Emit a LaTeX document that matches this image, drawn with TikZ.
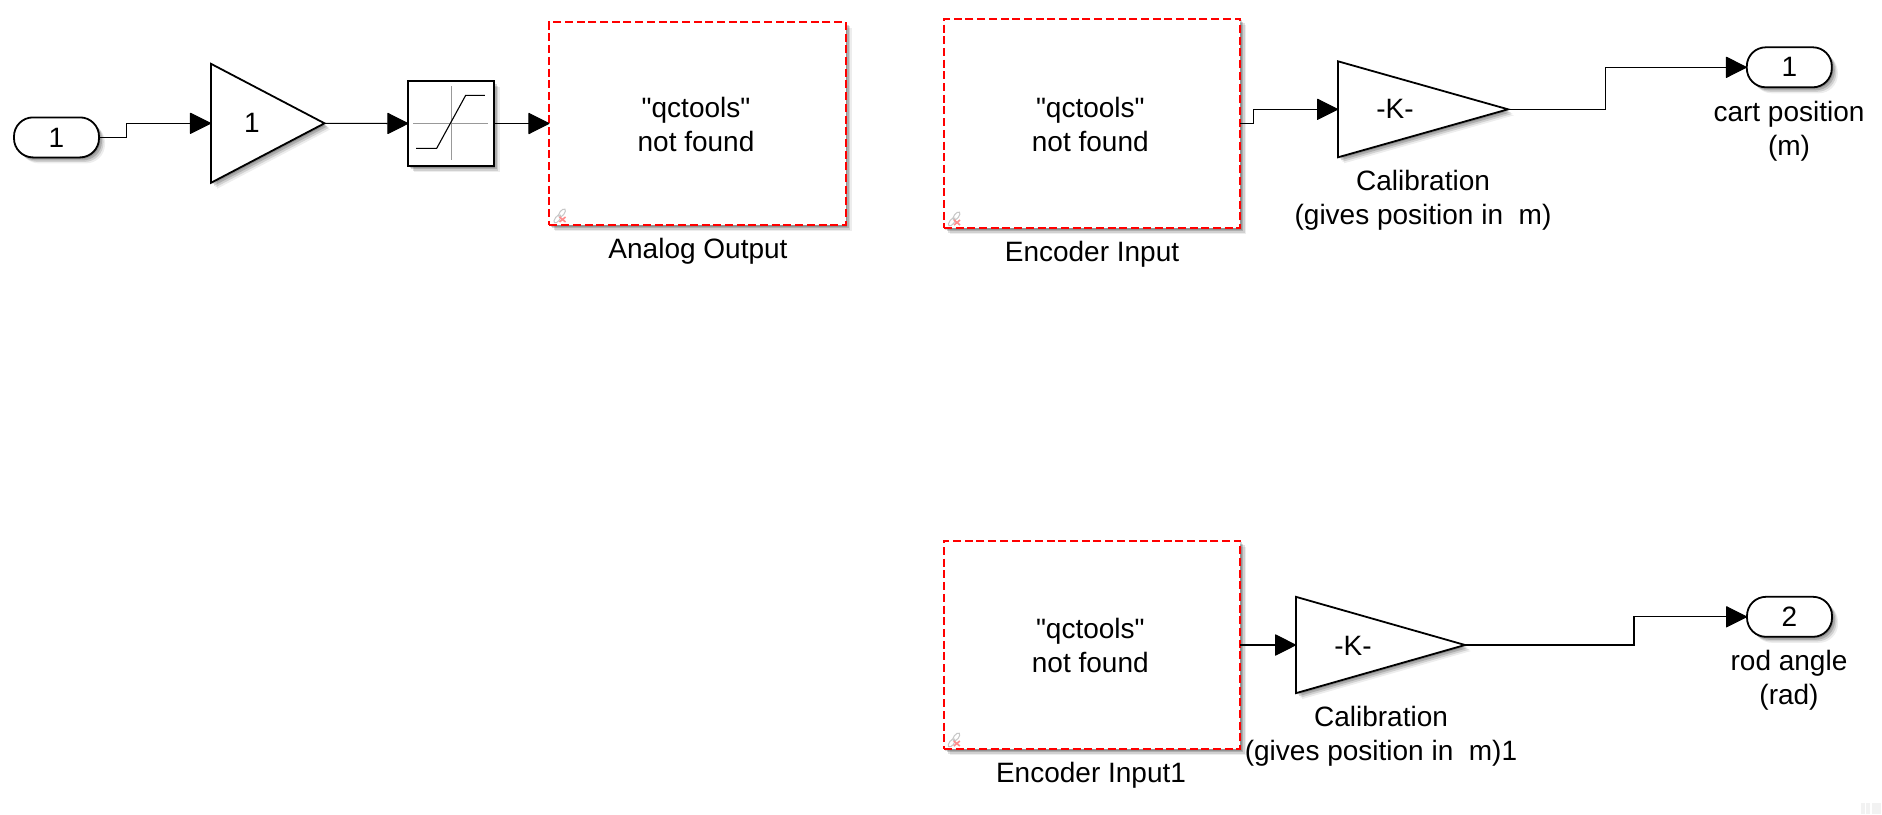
\documentclass[tikz,border=0pt]{standalone}
\usepackage{fontspec}
\newfontfamily\arialfont{Liberation Sans}
\usetikzlibrary{arrows.meta,shapes.geometric,shadows,calc}
\tikzset{
  x=1pt,y=-1pt,
  softshadow/.style={
    general shadow={shadow xshift=1.5pt,shadow yshift=-1.5pt,fill=black,opacity=.16},
    general shadow={shadow xshift=3pt,shadow yshift=-3pt,fill=black,opacity=.16},
    general shadow={shadow xshift=4.5pt,shadow yshift=-4.5pt,fill=black,opacity=.12},
    general shadow={shadow xshift=6pt,shadow yshift=-6pt,fill=black,opacity=.07}},
  lbl/.style={font=\arialfont\fontsize{28}{34}\selectfont,align=center,inner sep=0,outer sep=0,text=black},
  wire/.style={draw=black,line width=1.1pt,-{Triangle[length=21.7pt,width=21.6pt,round=false,sep=0pt]}},
  plainblock/.style={draw=black,line width=1.8pt,fill=white,inner sep=0,outer sep=0,softshadow},
  gainblock/.style={isosceles triangle,isosceles triangle stretches,shape border rotate=0,anchor=lower side,
    draw=black,line width=1.8pt,fill=white,inner sep=0,outer sep=0,softshadow},
  pill/.style={rectangle,rounded corners=19pt,draw=black,line width=1.8pt,fill=white,inner sep=0,outer sep=0,
    minimum width=85pt,minimum height=40pt,softshadow},
  missing/.style={rectangle,draw=red,line width=2pt,dash pattern=on 8pt off 3.7pt,fill=white,inner sep=0,outer sep=0,
    minimum width=296.2pt,softshadow},
  linkicon/.style={draw=black!22,line width=1pt,fill=none},
  linkcross/.style={draw=red!45,line width=1.6pt},
  axisline/.style={draw=black!40,line width=.9pt},
  curveline/.style={draw=black,line width=1.1pt},
  watermark/.style={fill=black!5,draw=none},
}
\newcommand{\brokenlink}[1]{%
  \begin{scope}[shift={(#1)}]
    \draw[linkicon,rotate=52] (0,0) ellipse [x radius=4.8pt,y radius=2.3pt];
    \draw[linkicon,rotate=52] (-7.5,0) ellipse [x radius=4.8pt,y radius=2.3pt];
    \draw[linkcross] (-2.5,4) -- (3.5,9) (3.5,4) -- (-2.5,9);
  \end{scope}}
\begin{document}
\begin{tikzpicture}
\useasboundingbox (0,0) rectangle (1882,814);
\fill[white] (0,0) rectangle (1882,814);

% blocks
\node[pill,lbl] (in1) at (56.5,137.4) {1};
\node[gainblock,minimum height=113.5pt,minimum width=119pt] (g1) at (211,123.3) {};
\node[lbl] (g1t) at (252,123.3) {1};
\node[plainblock,rectangle,minimum width=85.4pt,minimum height=85pt] (sat) at (451,123.5) {};
\node[missing,minimum height=203.3pt] (aout) at (697.5,123.5) {};
\node[missing,minimum height=209.3pt] (enc1) at (1092,123.6) {};
\node[missing,minimum height=208.6pt] (enc2) at (1092,645) {};
\node[gainblock,minimum height=170pt,minimum width=96pt] (k1) at (1338,109.3) {};
\node[lbl] (k1t) at (1395,109.3) {-K-};
\node[gainblock,minimum height=169pt,minimum width=96.3pt] (k2) at (1296,645) {};
\node[lbl] (k2t) at (1353,646) {-K-};
\node[pill,lbl] (out1) at (1789.3,67.3) {1};
\node[pill,lbl] (out2) at (1789.5,616.8) {2};

% saturation icon
\draw[axisline] ($(sat.center)+(-37.8,0)$) -- ($(sat.center)+(37.2,0)$);
\draw[axisline] ($(sat.center)+(0,-37.5)$) -- ($(sat.center)+(0,36.5)$);
\draw[curveline] (416,148.3) -- (436.7,148.3) -- (465.7,95.3) -- (484.9,95.3);

% block texts
\node[lbl] (aoutt) at (696,124.5) {"qctools"\\not found};
\node[lbl] (enc1t) at (1090.3,124.5) {"qctools"\\not found};
\node[lbl] (enc2t) at (1090.3,645.5) {"qctools"\\not found};

% labels
\node[lbl] (aoutl) at (698,251.5) {Analog Output};
\node[lbl] (enc1l) at (1092,254.5) {Encoder Input};
\node[lbl] (enc2l) at (1091,775.5) {Encoder Input1};
\node[lbl] (k1l) at (1423,200.5) {Calibration\\(gives position in\ \ m)};
\node[lbl] (k2l) at (1381,736.5) {Calibration\\(gives position in\ \ m)1};
\node[lbl] (out1l) at (1789,131) {cart position\\(m)};
\node[lbl] (out2l) at (1789,680.5) {rod angle\\(rad)};

% broken link icons
\brokenlink{562,213}
\brokenlink{956.5,216}
\brokenlink{956.3,737}

% connectors
\draw[wire] (in1.east) -- ++(27.5,0) |- (g1.lower side);
\draw[wire] (g1.apex) -- (sat.west);
\draw[wire] (sat.east) -- (aout.west);
\draw[wire] (enc1.east) -- ++(13.3,0) |- (k1.lower side);
\draw[wire] (k1.apex) -- ++(97.5,0) |- (out1.west);
\draw[wire] (enc2.east) -- (k2.lower side);
\draw[wire] (k2.apex) -- ++(169,0) |- (out2.west);

% faint corner marks
\fill[watermark] (1861,803) rectangle (1865,814);
\fill[watermark] (1866,803) rectangle (1870,814);
\fill[watermark] (1872,803) rectangle (1881,814);
\end{tikzpicture}
\end{document}
